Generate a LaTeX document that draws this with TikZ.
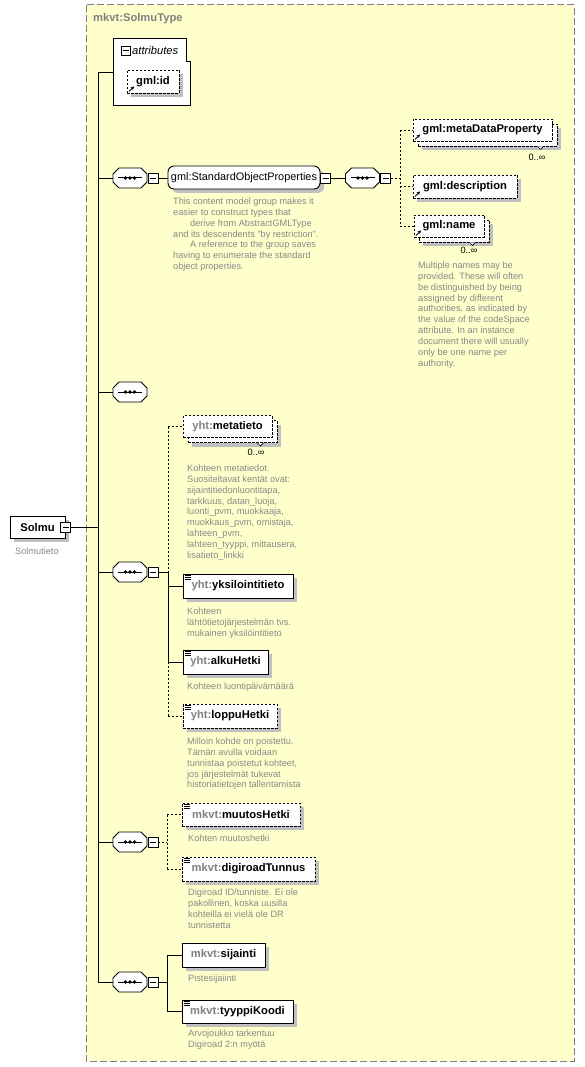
\documentclass[tikz,border=0pt]{standalone}
\usepackage{fontspec}
\setmainfont{Liberation Sans}
\usetikzlibrary{shadows,arrows.meta}
\definecolor{bgyellow}{RGB}{255,255,204}
\definecolor{framegray}{RGB}{128,128,128}
\definecolor{pregray}{RGB}{128,128,128}
\definecolor{anngray}{RGB}{136,136,136}
\definecolor{shadowgray}{RGB}{192,192,192}
\tikzset{
  shd/.style={drop shadow={shadow xshift=4pt,shadow yshift=-4pt,fill=shadowgray,opacity=1}},
  basebox/.style={draw=black,fill=white,line width=0.9pt,inner sep=0pt,font=\fontsize{11.2}{13}\selectfont\bfseries},
  elem/.style={basebox,shd},
  opt/.style={dash pattern=on 2.5pt off 1.5pt},
  ann/.style={anchor=north west,inner sep=0pt,align=left,text=anngray,font=\fontsize{9.2}{10.9}\selectfont},
  multlbl/.style={inner sep=0pt,font=\fontsize{9.2}{11}\selectfont},
  seqbox/.style={rectangle,minimum width=34pt,minimum height=20pt,inner sep=0pt},
  minusbox/.style={draw,fill=white,line width=0.8pt,minimum size=10pt,inner sep=0pt,
    path picture={\draw[line width=0.8pt] ([xshift=-3pt]path picture bounding box.center) -- ([xshift=3pt]path picture bounding box.center);}},
  conn/.style={line width=0.9pt},
  dconn/.style={line width=0.9pt,dash pattern=on 2pt off 2pt},
}
\newcommand\simpleicon[1]{\foreach \d in {2,4,6} {\draw[line width=0.6pt] ([shift={(2,\d)}]#1.north west) -- ++(6,0);}}
\newcommand\refarrow[1]{\draw[line width=0.9pt,-{Stealth[length=3.5pt,width=3.5pt]}] ([shift={(2.5,-2)}]#1.south west) -- ++(5,-5);}
\newcommand\octpath[1]{([shift={(-17,-4)}]#1.center) -- ([shift={(-11,-10)}]#1.center) -- ([shift={(11,-10)}]#1.center) -- ([shift={(17,-4)}]#1.center) -- ([shift={(17,4)}]#1.center) -- ([shift={(11,10)}]#1.center) -- ([shift={(-11,10)}]#1.center) -- ([shift={(-17,4)}]#1.center) -- cycle}
\newcommand\seqshape[1]{%
  \fill[shadowgray,shift={(4,4)}] \octpath{#1};
  \draw[fill=white,line width=0.9pt] \octpath{#1};
  \draw[line width=1pt] ([xshift=-12pt]#1.center) -- ([xshift=12pt]#1.center);
  \foreach \o in {-4.5,0,4.5} {\fill ([xshift=\o pt]#1.center) circle (1.8pt);}}
\newcommand\multnotch[1]{\draw[line width=0.6pt,fill=white] ([shift={(-20,0)}]#1.south east) -- ++(3,3) -- ++(3,-3);}
\begin{document}
\begin{tikzpicture}[x=1pt,y=-1pt]
\useasboundingbox (0,0) rectangle (584,1067);
\fill[white] (0,0) rectangle (584,1067);
% frame
\draw[framegray,fill=bgyellow,line width=1pt,dash pattern=on 7pt off 3pt] (86,5) rectangle (574,1061);
\node[anchor=west,inner sep=0pt,text=framegray,font=\fontsize{11.2}{13}\selectfont\bfseries] (title) at (93,19) {mkvt:SolmuType};

% attributes
\draw[fill=white,line width=0.9pt] (113,38) -- (186,38) -- (186,61) -- (190,61) -- (190,105) -- (113,105) -- cycle;
\node[minusbox,minimum size=9pt] (attrminus) at (125.5,50.5) {};
\node[anchor=west,inner sep=0pt,font=\fontsize{11.2}{13}\selectfont\itshape] (attrlbl) at (132,51) {attributes};
\node[elem,opt,minimum width=52pt,minimum height=23pt] (gmlid) at (153,81.5) {gml:id};
\refarrow{gmlid}
\coordinate (attr) at (113,72);

% Solmu
\node[elem,minimum width=55pt,minimum height=22pt] (solmu) at (37.5,527) {Solmu};
\node[minusbox] (solmuminus) at (65.5,527.5) {};
\node[ann] (solmuann) at (15,547.5) {Solmutieto};

% main line
\coordinate (mtop) at (98,72);
\coordinate (mbot) at (98,982);
\draw[conn] (mtop) -- (mbot);
\draw[conn] (mtop) -- (attr);
\draw[conn] (solmuminus.east) -- (solmuminus.east -| mtop);

% sequences
\foreach \n/\y in {seqa/178,seqb/392,seqc/572,seqd/842,seqe/982} {
  \node[seqbox] (\n) at (130,\y) {};
  \seqshape{\n}
  \draw[conn] (\n.west -| mtop) -- (\n.west);
}
\foreach \n/\y in {seqa/178,seqc/572,seqd/842,seqe/982} {
  \node[minusbox] (\n-m) at (153,\y) {};
}

% row 1
\node[elem,rounded corners=6pt,font=\fontsize{10.9}{13}\selectfont,minimum width=152pt,minimum height=23pt] (std) at (244,177.5) {gml:StandardObjectProperties};
\node[minusbox] (stdm) at (325.5,178) {};
\draw[conn] (seqa-m.east) -- (std.west |- seqa-m.east);
\node[ann] (stdann) at (173,197.5) {This content model group makes it\\easier to construct types that\\\hspace*{17pt}derive from AbstractGMLType\\and its descendents "by restriction".\\\hspace*{17pt}A reference to the group saves\\having to enumerate the standard\\object properties.};
\node[seqbox] (rseq) at (362.5,178) {};
\seqshape{rseq}
\node[minusbox] (rseqm) at (385.5,178) {};
\draw[conn] (stdm.east) -- (rseq.west);
\coordinate (rv) at (400,178);
\draw[dconn] (rseqm.east) -- (rv);

\node[elem,opt,minimum width=139pt,minimum height=22pt] (mdpb) at (487.5,135) {};
\node[basebox,opt,minimum width=139pt,minimum height=22pt] (mdp) at (482.5,130) {gml:metaDataProperty};
\refarrow{mdp}
\multnotch{mdpb}
\node[multlbl] (mdpmult) at (537,157) {0..∞};

\node[elem,opt,minimum width=104pt,minimum height=23pt] (desc) at (465,186.5) {gml:description};
\refarrow{desc}

\node[elem,opt,minimum width=70pt,minimum height=22pt] (nameb) at (454,231) {};
\node[basebox,opt,minimum width=70pt,minimum height=22pt] (name) at (449,226) {gml:name};
\refarrow{name}
\multnotch{nameb}
\node[multlbl] (namemult) at (469,250) {0..∞};
\node[ann] (nameann) at (418,261.5) {Multiple names may be\\provided.  These will often\\be distinguished by being\\assigned by different\\authorities, as indicated by\\the value of the codeSpace\\attribute.  In an instance\\document there will usually\\only be one name per\\authority.};

\draw[dconn] (mdp.west -| rv) -- (name.west -| rv);
\draw[dconn] (mdp.west -| rv) -- (mdp.west);
\draw[dconn] (desc.west -| rv) -- (desc.west);
\draw[dconn] (name.west -| rv) -- (name.west);

% yht group
\node[elem,opt,minimum width=89pt,minimum height=22pt] (metab) at (232.5,431.5) {};
\node[basebox,opt,minimum width=89pt,minimum height=22pt] (meta) at (227.5,426.5) {\textcolor{pregray}{yht:}metatieto};
\multnotch{metab}
\node[multlbl] (metamult) at (256,452) {0..∞};
\node[ann] (metaann) at (187,464.5) {Kohteen metatiedot.\\Suositeltavat kentät ovat:\\sijaintitiedonluontitapa,\\tarkkuus, datan\_luoja,\\luonti\_pvm, muokkaaja,\\muokkaus\_pvm, omistaja,\\lahteen\_pvm,\\lahteen\_tyyppi, mittausera,\\lisatieto\_linkki};

\node[elem,minimum width=110pt,minimum height=24pt] (yks) at (238,586) {\textcolor{pregray}{yht:}yksilointitieto};
\simpleicon{yks}
\node[ann] (yksann) at (187,607.5) {Kohteen\\lähtötietojärjestelmän  tvs.\\mukainen yksilöintitieto};

\node[elem,minimum width=85pt,minimum height=24pt] (alku) at (225.5,662) {\textcolor{pregray}{yht:}alkuHetki};
\simpleicon{alku}
\node[ann] (alkuann) at (187,682.5) {Kohteen luontipäivämäärä};

\node[elem,opt,minimum width=94pt,minimum height=24pt] (loppu) at (230,716) {\textcolor{pregray}{yht:}loppuHetki};
\simpleicon{loppu}
\node[ann] (loppuann) at (187,737.5) {Milloin kohde on poistettu.\\Tämän avulla voidaan\\tunnistaa poistetut kohteet,\\jos järjestelmät tukevat\\historiatietojen tallentamista};

\coordinate (yv) at (168,572);
\draw[conn] (seqc-m.east) -- (yv);
\draw[dconn] (meta.west -| yv) -- (yv);
\draw[conn] (yv) -- (alku.west -| yv);
\draw[dconn] (alku.west -| yv) -- (loppu.west -| yv);
\draw[dconn] (meta.west -| yv) -- (meta.west);
\draw[conn] (yks.west -| yv) -- (yks.west);
\draw[conn] (alku.west -| yv) -- (alku.west);
\draw[dconn] (loppu.west -| yv) -- (loppu.west);

% mkvt group 1
\node[elem,opt,minimum width=118pt,minimum height=23pt] (muutos) at (241,814.5) {\textcolor{pregray}{mkvt:}muutosHetki};
\simpleicon{muutos}
\node[ann] (muutosann) at (188,834.5) {Kohten muutoshetki};
\node[elem,opt,minimum width=133pt,minimum height=24pt] (digi) at (248.5,869) {\textcolor{pregray}{mkvt:}digiroadTunnus};
\simpleicon{digi}
\node[ann] (digiann) at (188,888.5) {Digiroad ID/tunniste. Ei ole\\pakollinen, koska uusilla\\kohteilla ei vielä ole DR\\tunnistetta};
\coordinate (mva) at (167,842);
\draw[dconn] (seqd-m.east) -- (mva);
\draw[dconn] (muutos.west -| mva) -- (digi.west -| mva);
\draw[dconn] (muutos.west -| mva) -- (muutos.west);
\draw[dconn] (digi.west -| mva) -- (digi.west);

% mkvt group 2
\node[elem,minimum width=83pt,minimum height=24pt] (sij) at (223.5,955) {\textcolor{pregray}{mkvt:}sijainti};
\node[ann] (sijann) at (188,974.5) {Pistesijaiinti};
\node[elem,minimum width=111pt,minimum height=23pt] (tyyppi) at (237.5,1011.5) {\textcolor{pregray}{mkvt:}tyyppiKoodi};
\simpleicon{tyyppi}
\node[ann] (tyyppiann) at (188,1029.5) {Arvojoukko tarkentuu\\Digiroad 2:n myötä};
\coordinate (mvb) at (167,982);
\draw[conn] (seqe-m.east) -- (mvb);
\draw[conn] (sij.west -| mvb) -- (tyyppi.west -| mvb);
\draw[conn] (sij.west -| mvb) -- (sij.west);
\draw[conn] (tyyppi.west -| mvb) -- (tyyppi.west);
\end{tikzpicture}
\end{document}
